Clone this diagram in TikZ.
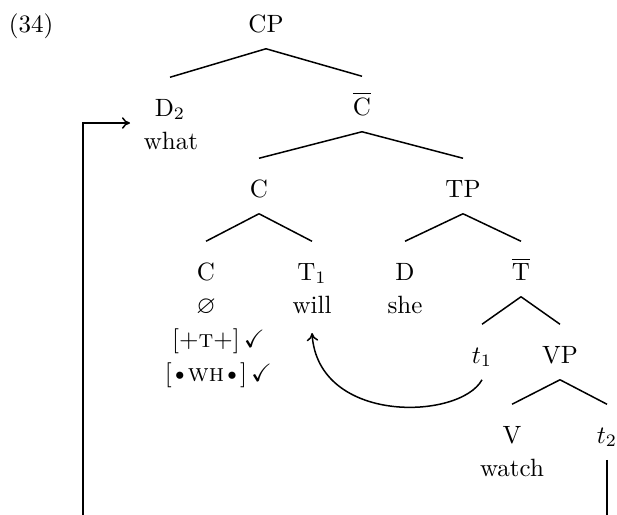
\documentclass[tikz,border=0pt]{standalone}
\usepackage{amssymb}
\usetikzlibrary{arrows.meta}
\newcommand{\tightbul}{\kern-0.7pt\textbullet\kern-0.7pt}
\begin{document}
\begin{tikzpicture}[x=0.4pt,y=-0.4pt,line width=0.6pt,
  lab/.style={anchor=base,inner xsep=1pt,inner ysep=6.4pt,text height=8.8pt,text depth=0pt},
  txt/.style={anchor=base,inner sep=0pt},
  branch/.style={line width=0.6pt},
  move/.style={line width=0.6pt,-{To[length=3.2pt,width=4.6pt]}}]
\useasboundingbox (0,0) rectangle (617,514);
\clip (0,0) rectangle (617,514);
% example number
\node[txt] (ex) at (31,32) {(34)};
% labels
\node[lab] (CP) at (266,32) {CP};
\node[lab] (D2) at (170,116) {D$_2$};
\node[txt] (what) at (171,149) {what};
\node[lab] (Cbar) at (362,115) {$\overline{\mbox{C}}$};
\node[lab] (Cm) at (259,197) {C};
\node[lab] (TP) at (463,197) {TP};
\node[lab] (Cl) at (206,280) {C};
\node[txt] (nul) at (206,313) {$\varnothing$};
\node[txt] (fT) at (206,347) {[+\textsc{t}+]\rlap{\,$\checkmark$}};
\node[txt] (fWH) at (206,381) {[\tightbul\textsc{wh}\tightbul]\rlap{\,$\checkmark$}};
\node[lab] (T1) at (312,280) {T$_1$};
\node[txt] (will) at (312,313) {will};
\node[lab] (D) at (405,280) {D};
\node[txt] (she) at (405,313) {she};
\node[lab] (Tbar) at (521,280) {$\overline{\mbox{T}}$};
\node[lab] (t1) at (482,363) {$t_1$};
\node[lab] (VP) at (560,363) {VP};
\node[lab] (V) at (512,443) {V};
\node[txt] (watch) at (512,476) {watch};
\node[lab] (t2) at (607,443) {$t_2$};
% branches
\draw[branch] (CP.south) -- (D2.north);
\draw[branch] (CP.south) -- (Cbar.north);
\draw[branch] (Cbar.south) -- (Cm.north);
\draw[branch] (Cbar.south) -- (TP.north);
\draw[branch] (Cm.south) -- (Cl.north);
\draw[branch] (Cm.south) -- (T1.north);
\draw[branch] (TP.south) -- (D.north);
\draw[branch] (TP.south) -- (Tbar.north);
\draw[branch] (Tbar.south) -- (t1.north);
\draw[branch] (Tbar.south) -- (VP.north);
\draw[branch] (VP.south) -- (V.north);
\draw[branch] (VP.south) -- (t2.north);
% head movement
\coordinate (willtip) at (312,333);
\draw[move] (t1.south) .. controls (460,420) and (318,425) .. (willtip);
% wh movement
\coordinate (bot) at (83,540);
\coordinate (whtip) at (130,123);
\draw[move] (t2.south) |- (bot) |- (whtip);
\end{tikzpicture}
\end{document}
